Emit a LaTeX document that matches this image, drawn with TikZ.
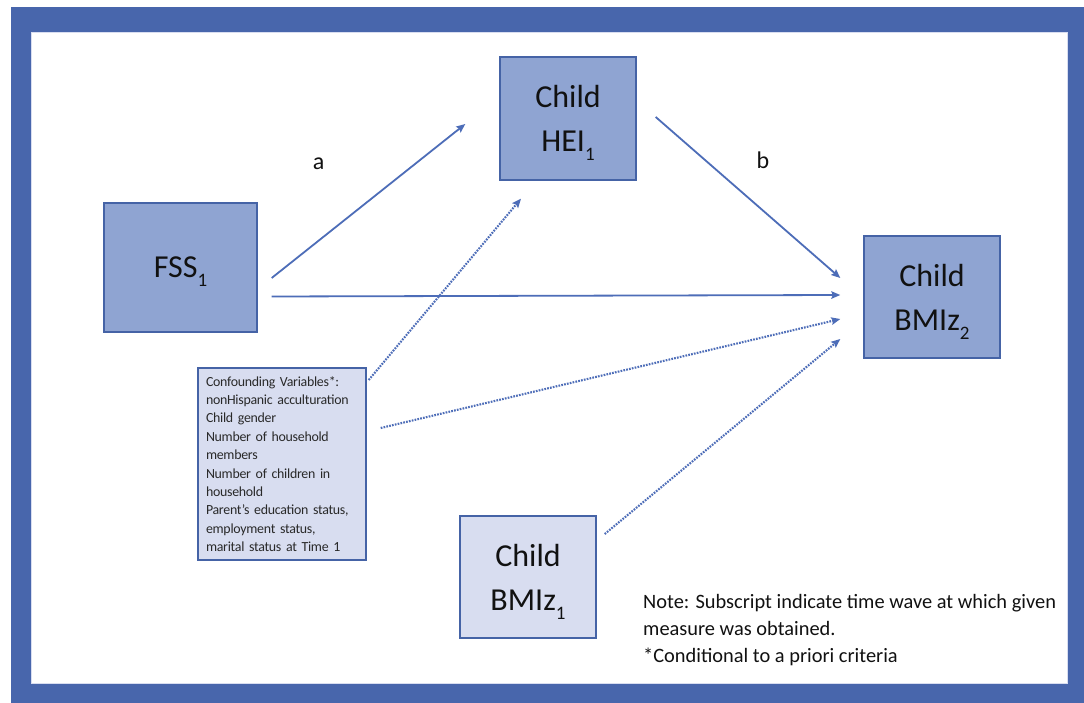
\documentclass[tikz,border=0pt]{standalone}
\usepackage{fontspec}
\setmainfont{Carlito}
\usetikzlibrary{arrows.meta,calc}
\definecolor{frameblue}{HTML}{4866AC}
\definecolor{midfill}{HTML}{8FA4D2}
\definecolor{lightfill}{HTML}{D8DDF0}
\definecolor{boxline}{HTML}{4563A6}
\definecolor{arrowblue}{HTML}{4D6DB8}
\definecolor{txt}{HTML}{111111}
\newcommand{\mysub}[1]{\raisebox{-9pt}[0pt][0pt]{\fontsize{19}{19}\selectfont #1}}
\tikzset{
  varbox/.style={draw=boxline, line width=1.4pt, rectangle, text=txt, align=center,
    font=\fontsize{32}{44}\selectfont, inner sep=0pt},
  midbox/.style={varbox, fill=midfill},
  litebox/.style={varbox, fill=lightfill},
  solidarrow/.style={draw=arrowblue, line width=1.8pt, -{Stealth[length=9pt,width=7.5pt,inset=1.5pt]}},
  dotarrow/.style={solidarrow, line width=2.1pt, dash pattern=on 1.7pt off 1.2pt},
  pathlabel/.style={text=txt, font=\fontsize{24}{24}\selectfont, inner sep=0pt},
  notetext/.style={text=txt, font=\fontsize{20.4}{27}\selectfont, align=left, inner sep=0pt, anchor=north west}
}
\begin{document}
\begin{tikzpicture}[x=1pt,y=-1pt]
\useasboundingbox (0,0) rectangle (1084,703);
\fill[frameblue] (11,7) rectangle (1084,703);
\fill[white] (31,32) rectangle (1067,683);
\draw[lightfill, line width=0.8pt] (31,32) rectangle (1067,683);

\node[midbox, minimum width=153pt, minimum height=129pt] (fss) at (180.5,267.5) {FSS\mysub{1}};
\node[midbox, minimum width=136pt, minimum height=123pt] (hei) at (568,118.5) {Child\\HEI\mysub{1}};
\node[midbox, minimum width=136pt, minimum height=122pt] (bmi2) at (932,297) {Child\\BMIz\mysub{2}};
\node[litebox, minimum width=136pt, minimum height=122pt] (bmi1) at (528,577) {Child\\BMIz\mysub{1}};
\node[draw=boxline, line width=1.4pt, fill=lightfill, minimum width=168pt, minimum height=192pt,
  text width=152pt, inner xsep=8pt, inner ysep=0pt, align=left, text=txt!90!white,
  font=\fontsize{13.9}{18.4}\selectfont\addfontfeatures{LetterSpace=-2}] (conf) at (282,464)
  {Confounding Variables*:\\nonHispanic acculturation\\Child gender\\Number of household\\members\\Number of children in\\household\\Parent’s education status,\\employment status,\\marital status at Time 1};

\node[pathlabel] (la) at (318.5,163.5) {a};
\node[pathlabel] (lb) at (763,160) {b};

\draw[solidarrow] ($(fss.east)+(14,10.5)$) -- ($(hei.west)+(-34,5.5)$);
\draw[solidarrow] ($(hei.east)+(19,-1.5)$) -- ($(bmi2.west)+(-23,-19)$);
\draw[solidarrow] ($(fss.east)+(14,29)$) -- ($(bmi2.west)+(-23,-2)$);
\draw[dotarrow] ($(conf.east)+(2,-84)$) -- ($(hei.south)+(-47,18)$);
\draw[dotarrow] ($(conf.east)+(14,-36)$) -- ($(bmi2.west)+(-23,22)$);
\draw[dotarrow] ($(bmi1.east)+(8,-43)$) -- ($(bmi2.west)+(-23,42)$);

\node[notetext] (note) at (643,594) {Note: Subscript indicate time wave at which given\\measure was obtained.\\*Conditional to a priori criteria};
\end{tikzpicture}
\end{document}
